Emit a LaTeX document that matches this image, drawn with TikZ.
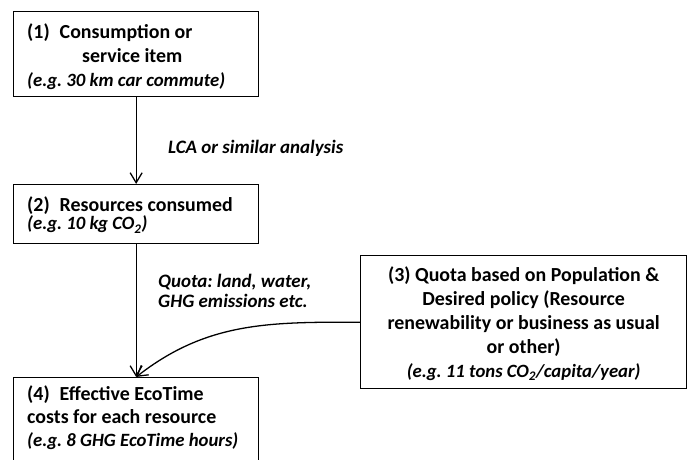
\documentclass[tikz,border=0pt]{standalone}
\usepackage{fontspec}
\setmainfont{Carlito}
\usetikzlibrary{arrows.meta}
\frenchspacing
\newcommand{\egtext}[1]{{\fontsize{16}{19}\selectfont\itshape #1}}

\tikzset{
  stepbox/.style={draw, line width=1.1pt, anchor=north west, inner sep=0pt},
  boxtext/.style={anchor=west, align=left, inner sep=0pt, font=\bfseries\fontsize{17}{20.5}\selectfont},
  note/.style={anchor=west, align=left, inner sep=0pt, font=\bfseries\itshape\fontsize{16.2}{16.5}\selectfont},
  flow/.style={line width=1.1pt, -{Straight Barb[length=0.3cm, width=0.36cm]}}
}

\begin{document}
\begin{tikzpicture}[x=0.03cm, y=-0.03cm]
            \path[use as bounding box] (0,0) rectangle (689,460);
            % boxes
            \node[stepbox, minimum width=7.35cm, minimum height=2.55cm] (c1) at (13,11) {};
            \node[boxtext] (c1t) at ([xshift=0.42cm, yshift=-0.09cm]c1.west)
              {(1)\enspace Consumption or\\ \hspace*{1.65cm}service item\\ \egtext{(e.g. 30 km car commute)}};
            \node[stepbox, minimum width=7.35cm, minimum height=1.77cm] (r2) at (13,184) {};
            \node[boxtext, font=\bfseries\fontsize{17}{16}\selectfont] (r2t) at ([xshift=0.42cm, yshift=-0.02cm]r2.west)
              {(2)\enspace Resources consumed\\ \egtext{(e.g. 10 kg CO\textsubscript{2})}};
            \node[stepbox, minimum width=9.78cm, minimum height=3.99cm] (q3) at (360,255) {};
            \node[boxtext, anchor=center, align=center] (q3t) at ([yshift=-0.04cm]q3.center)
              {(3) Quota based on Population \&\\ Desired policy (Resource\\ renewability or business as usual\\ or other)\\
               \egtext{(e.g. 11 tons CO\textsubscript{2}/capita/year)}};
            \node[stepbox, minimum width=7.35cm, minimum height=2.65cm] (e4) at (13,377) {};
            \node[boxtext, anchor=north west, font=\bfseries\fontsize{17}{19.5}\selectfont] (e4t) at ([shift={(0.42cm,-0.26cm)}]e4.north west)
              {(4)\enspace Effective EcoTime\\ costs for each resource\\ \egtext{(e.g. 8 GHG EcoTime hours)}};
            % arrows
            \draw[flow] (c1.south) -- (r2.north);
            \draw[flow] (r2.south) -- (e4.north);
            \draw[flow] (q3.west) to[out=180, in=38] (e4.north);
            \node[note] (lca) at (168,148) {LCA or similar analysis};
            \node[note] (quota) at (158,291) {Quota: land, water,\\ GHG emissions etc.};
        \end{tikzpicture}
\end{document}
